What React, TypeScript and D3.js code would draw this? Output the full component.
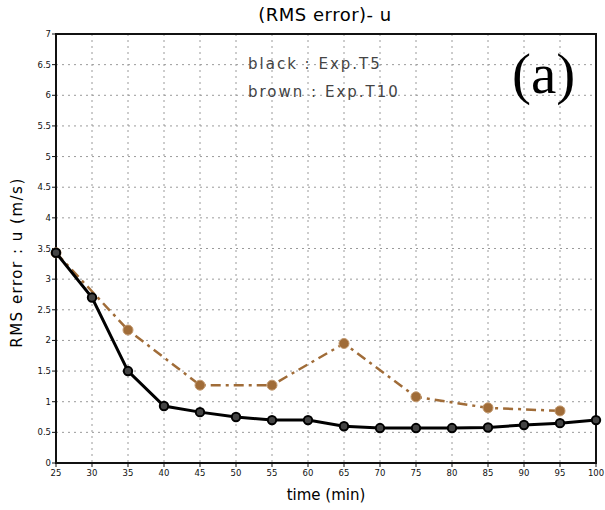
import React from "react";
import * as d3 from "d3";

const timesT5 = [25, 30, 35, 40, 45, 50, 55, 60, 65, 70, 75, 80, 85, 90, 95, 100];
const rmsT5 = [3.43, 2.7, 1.5, 0.93, 0.83, 0.75, 0.7, 0.7, 0.6, 0.57, 0.57, 0.57, 0.58, 0.62, 0.65, 0.7];
const timesT10 = [25, 35, 45, 55, 65, 75, 85, 95];
const rmsT10 = [3.43, 2.17, 1.27, 1.27, 1.95, 1.08, 0.9, 0.85];
const xTicks = [25, 30, 35, 40, 45, 50, 55, 60, 65, 70, 75, 80, 85, 90, 95, 100];
const yTicks = [0, 0.5, 1, 1.5, 2, 2.5, 3, 3.5, 4, 4.5, 5, 5.5, 6, 6.5, 7];

const W = 605, H = 510;
const L = 56, R = 596, T = 34, B = 463;
const BROWN = "#a06c38";

export default function App() {
  const x = d3.scaleLinear().domain([25, 100]).range([L, R]);
  const y = d3.scaleLinear().domain([0, 7]).range([B, T]);
  const line = d3.line<[number, number]>().x(d => x(d[0])).y(d => y(d[1]));
  const d5 = timesT5.map((t, i) => [t, rmsT5[i]] as [number, number]);
  const d10 = timesT10.map((t, i) => [t, rmsT10[i]] as [number, number]);
  const font = "'DejaVu Sans', Verdana, sans-serif";
  return (
    <svg width={W} height={H} style={{ position: "absolute", left: 0, top: 0, background: "#fff" }}>
      {xTicks.map(t => (
        <line key={"gx" + t} x1={x(t)} x2={x(t)} y1={T} y2={B} stroke="#9a9a9a" strokeWidth={1} strokeDasharray="2,4" />
      ))}
      {yTicks.map(t => (
        <line key={"gy" + t} x1={L} x2={R} y1={y(t)} y2={y(t)} stroke="#9a9a9a" strokeWidth={1} strokeDasharray="2,4" />
      ))}
      <rect x={L} y={T} width={R - L} height={B - T} fill="none" stroke="#111" strokeWidth={2} />
      {yTicks.map(t => (
        <g key={"ty" + t}>
          <line x1={L - 4} x2={L} y1={y(t)} y2={y(t)} stroke="#111" strokeWidth={1} />
          <text x={L - 5} y={y(t) + 3} textAnchor="end" fontSize={8.5} fontFamily={font} fill="#111">{String(t)}</text>
        </g>
      ))}
      {xTicks.map(t => (
        <g key={"tx" + t}>
          <line x1={x(t)} x2={x(t)} y1={B} y2={B + 4} stroke="#111" strokeWidth={1} />
          <text x={x(t)} y={B + 13} textAnchor="middle" fontSize={8.5} fontFamily={font} fill="#111">{String(t)}</text>
        </g>
      ))}
      <path d={line(d10) || ""} fill="none" stroke={BROWN} strokeWidth={2.5} strokeDasharray="10,5,3,5" />
      {d10.map((p, i) => (
        <circle key={"m10" + i} cx={x(p[0])} cy={y(p[1])} r={5} fill={BROWN} stroke="#c39a70" strokeWidth={1} />
      ))}
      <path d={line(d5) || ""} fill="none" stroke="#000" strokeWidth={3} />
      {d5.map((p, i) => (
        <circle key={"m5" + i} cx={x(p[0])} cy={y(p[1])} r={4.2} fill="#444" stroke="#000" strokeWidth={2} />
      ))}
      <text x={325} y={21} textAnchor="middle" fontSize={18} fontFamily={font} fill="#000" letterSpacing={0.5}>(RMS error)- u</text>
      <text x={326} y={500} textAnchor="middle" fontSize={15} fontFamily={font} fill="#000">time  (min)</text>
      <text transform={`translate(22,${(T + B) / 2 + 14}) rotate(-90)`} textAnchor="middle" fontSize={15} fontFamily={font} fill="#000" letterSpacing={1.5}>RMS error : u (m/s)</text>
      <text x={248} y={69} fontSize={15} fontFamily={font} fill="#444" letterSpacing={2}>black : Exp.T5</text>
      <text x={248} y={97} fontSize={15} fontFamily={font} fill="#444" letterSpacing={2}>brown : Exp.T10</text>
      <text x={512} y={93} fontSize={57} fontFamily="'Liberation Serif', 'Times New Roman', serif" fill="#000">(a)</text>
    </svg>
  );
}
